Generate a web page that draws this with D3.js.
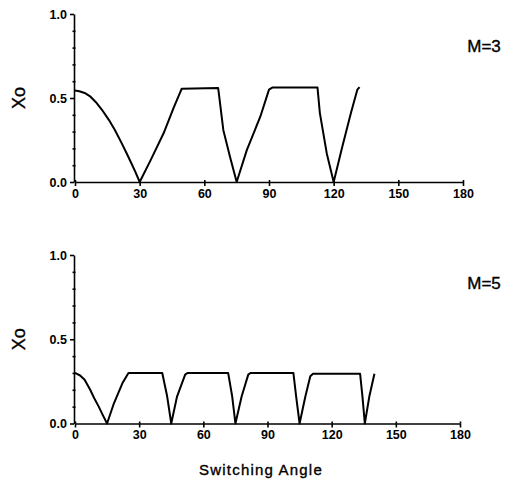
<!DOCTYPE html>
<html>
<head>
<meta charset="utf-8">
<script src="https://cdn.jsdelivr.net/npm/d3@7"></script>
<style>
  body { margin: 0; background: #fff; }
  svg { display: block; }
  .tick text { font-family: "Liberation Sans", Arial, sans-serif; font-size: 12.5px; font-weight: bold; }
  .domain, .tick line { stroke: #000; stroke-width: 1.6; }
  .curve { fill: none; stroke: #000; stroke-width: 2; stroke-linejoin: round; }
  .lab { font-family: "Liberation Sans", Arial, sans-serif; stroke: #000; stroke-width: 0.35; }
</style>
</head>
<body>
<script>
// values
var xTicks = [0, 30, 60, 90, 120, 150, 180];
var yTicks = [0, 0.5, 1.0];
var yMinor = [0.1, 0.2, 0.3, 0.4, 0.6, 0.7, 0.8, 0.9];

var m3Angle = [0, 2, 4.5, 7, 9.7, 12.5, 15.7, 18.5, 21.7, 24, 26.2, 28, 30, 35.1, 41.1, 45.7, 48, 49.5,
               66.4, 66.9, 68.8, 71.9, 75, 79.7, 86, 90, 91.5, 112.5, 113.6, 116.8, 120, 124, 128, 131, 132];
var m3Xo    = [0.545, 0.54, 0.53, 0.51, 0.475, 0.43, 0.37, 0.31, 0.23, 0.17, 0.11, 0.06, 0, 0.13, 0.29, 0.44, 0.51, 0.555,
               0.56, 0.51, 0.31, 0.15, 0, 0.19, 0.39, 0.55, 0.562, 0.562, 0.41, 0.17, 0, 0.21, 0.41, 0.55, 0.565];

var m5Angle = [0, 2.4, 4.5, 7.1, 9, 11.1, 13, 15, 18.2, 22.2, 25, 40.8, 43.1, 45, 47.7, 51.5, 52.6, 71.6, 73.5, 75,
               77.9, 81, 82, 102.1, 103.4, 105, 107.7, 110, 111.3, 133.3, 134.4, 135.5, 137.6, 140];
var m5Xo    = [0.3, 0.285, 0.26, 0.2, 0.15, 0.1, 0.05, 0, 0.12, 0.24, 0.3, 0.3, 0.16, 0, 0.16, 0.29, 0.3, 0.3, 0.16, 0,
               0.16, 0.29, 0.3, 0.3, 0.16, 0, 0.16, 0.28, 0.295, 0.295, 0.16, 0, 0.16, 0.295];

var svg = d3.select("body").append("svg")
            .attr("width", 512)
            .attr("height", 485);

function panel(angle, xo, y0, y1, xEnd, label, labelY) {
  var x = d3.scaleLinear().domain([0, 180]).range([75, xEnd]);
  var y = d3.scaleLinear().domain([0, 1]).range([y0, y1]);

  var g = svg.append("g");

  g.append("g")
    .attr("transform", "translate(0," + y0 + ")")
    .call(d3.axisBottom(x).tickValues(xTicks).tickSize(4).tickSizeOuter(0).tickPadding(3));

  g.append("g")
    .attr("transform", "translate(0," + y0 + ")")
    .call(d3.axisTop(x).tickValues(xTicks).tickSize(2).tickFormat("").tickSizeOuter(0))
    .select(".domain").remove();

  g.append("g")
    .attr("transform", "translate(" + 74 + ",0)")
    .call(d3.axisLeft(y).tickValues(yTicks).tickSize(4).tickSizeOuter(0).tickPadding(3)
      .tickFormat(d3.format(".1f")));

  g.append("g")
    .attr("transform", "translate(" + 75.5 + ",0)")
    .call(d3.axisLeft(y).tickValues(yMinor).tickSize(3).tickFormat("").tickSizeOuter(0))
    .select(".domain").remove();

  var line = d3.line()
    .x(function(d, i) { return x(angle[i]); })
    .y(function(d) { return y(d); });

  g.append("path")
    .datum(xo)
    .attr("class", "curve")
    .attr("d", line);

  g.append("text")
    .attr("class", "lab")
    .attr("transform", "translate(25," + y(0.5) + ") rotate(-90)")
    .attr("text-anchor", "middle")
    .attr("font-size", 18)
    .text("Xo");

  g.append("text")
    .attr("class", "lab")
    .attr("x", 484)
    .attr("y", labelY)
    .attr("text-anchor", "middle")
    .attr("font-size", 17)
    .attr("stroke-width", 0.2)
    .text(label);
}

panel(m3Angle, m3Xo, 182, 14, 463, "M=3", 52);
panel(m5Angle, m5Xo, 423.5, 255, 460, "M=5", 289);

svg.append("text")
  .attr("class", "lab")
  .attr("x", 261)
  .attr("y", 475)
  .attr("text-anchor", "middle")
  .attr("font-size", 15)
  .attr("letter-spacing", 1.2)
  .text("Switching Angle");
</script>
</body>
</html>
